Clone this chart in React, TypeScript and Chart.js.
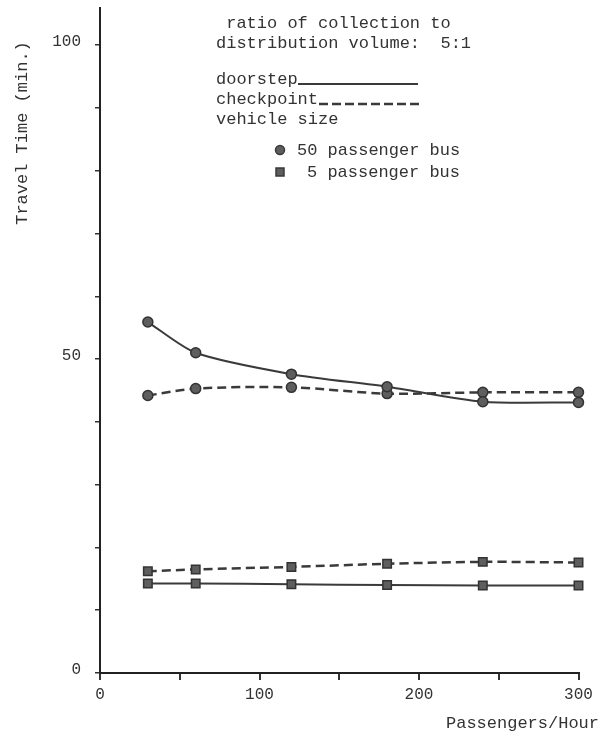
import React, { useEffect, useRef } from 'react';
import { Chart, registerables } from 'chart.js';

Chart.register(...registerables);

// Passengers per hour
const xValues = [30, 60, 120, 180, 240, 300];
// Travel time (min.)
const bus50Doorstep = [55.9, 51.0, 47.6, 45.6, 43.2, 43.1];
const bus50Checkpoint = [44.2, 45.3, 45.5, 44.5, 44.7, 44.7];
const bus5Doorstep = [14.25, 14.25, 14.15, 14.0, 13.95, 13.95];
const bus5Checkpoint = [16.2, 16.5, 16.9, 17.4, 17.7, 17.6];

const yTickValues = [0, 10, 20, 30, 40, 50, 60, 70, 80, 90, 100];
const yTickLabeled = [0, 50, 100];
const xTickValues = [0, 50, 100, 150, 200, 250, 300];
const xTickLabeled = [0, 100, 200, 300];

const titleLines = [' ratio of collection to', 'distribution volume:  5:1'];
const lineTypeLabels = ['doorstep', 'checkpoint', 'vehicle size'];
const vehicleLabels = ['50 passenger bus', '5 passenger bus'];
const yAxisTitle = 'Travel Time (min.)';
const xAxisTitle = 'Passengers/Hour';

const FONT = '"Liberation Mono", "Courier New", monospace';
const INK = '#333333';
const LINE = '#3a3a3a';
const MARK_FILL = '#5e5e5e';

const toPts = (ys: number[]) => xValues.map((x, i) => ({ x, y: ys[i] }));

const annotationPlugin = {
  id: 'annotations',
  afterDraw(chart: any) {
    const ctx = chart.ctx as CanvasRenderingContext2D;
    ctx.save();
    ctx.fillStyle = INK;
    ctx.strokeStyle = LINE;
    ctx.font = `17px ${FONT}`;
    ctx.textBaseline = 'middle';
    ctx.textAlign = 'left';
    ctx.fillText(titleLines[0], 216, 23);
    ctx.fillText(titleLines[1], 216, 43);
    ctx.fillText(lineTypeLabels[0], 216, 79);
    ctx.fillText(lineTypeLabels[1], 216, 99);
    ctx.fillText(lineTypeLabels[2], 216, 119);

    // legend line samples
    ctx.lineWidth = 2;
    ctx.setLineDash([]);
    ctx.beginPath();
    ctx.moveTo(298, 84);
    ctx.lineTo(418, 84);
    ctx.stroke();
    ctx.lineWidth = 2.5;
    ctx.setLineDash([9, 4]);
    ctx.beginPath();
    ctx.moveTo(319, 104);
    ctx.lineTo(420, 104);
    ctx.stroke();
    ctx.setLineDash([]);

    // legend markers
    ctx.fillStyle = MARK_FILL;
    ctx.lineWidth = 1.5;
    ctx.beginPath();
    ctx.arc(280, 150, 4.5, 0, Math.PI * 2);
    ctx.fill();
    ctx.stroke();
    ctx.beginPath();
    ctx.rect(276, 168, 8, 8);
    ctx.fill();
    ctx.stroke();

    ctx.fillStyle = INK;
    ctx.fillText(vehicleLabels[0], 297, 150);
    ctx.fillText(vehicleLabels[1], 307, 172);

    // axis titles
    ctx.textAlign = 'right';
    ctx.fillText(xAxisTitle, 599, 723);

    ctx.save();
    ctx.translate(22, 133);
    ctx.rotate(-Math.PI / 2);
    ctx.textAlign = 'center';
    ctx.fillText(yAxisTitle, 0, 0);
    ctx.restore();

    ctx.restore();
  },
};

export default function App() {
  const canvasRef = useRef<HTMLCanvasElement | null>(null);

  useEffect(() => {
    if (!canvasRef.current) return;
    const solid = { borderDash: [] as number[], borderWidth: 2 };
    const dashed = { borderDash: [9, 5], borderWidth: 2.5 };
    const circle = {
      pointStyle: 'circle',
      pointRadius: 5,
      pointBackgroundColor: MARK_FILL,
      pointBorderColor: '#333',
      pointBorderWidth: 1.5,
    };
    const square = {
      pointStyle: 'rect',
      pointRadius: 6,
      pointBackgroundColor: MARK_FILL,
      pointBorderColor: '#333',
      pointBorderWidth: 1.5,
    };
    const chart = new Chart(canvasRef.current, {
      type: 'line',
      data: {
        datasets: [
          { label: '50 bus doorstep', data: toPts(bus50Doorstep), borderColor: LINE, tension: 0.25, clip: false, ...solid, ...circle },
          { label: '50 bus checkpoint', data: toPts(bus50Checkpoint), borderColor: LINE, tension: 0.3, clip: false, ...dashed, ...circle },
          { label: '5 bus doorstep', data: toPts(bus5Doorstep), borderColor: LINE, tension: 0.2, clip: false, ...solid, ...square },
          { label: '5 bus checkpoint', data: toPts(bus5Checkpoint), borderColor: LINE, tension: 0.3, clip: false, ...dashed, ...square },
        ] as any,
      },
      options: {
        animation: false,
        responsive: false,
        layout: { padding: { top: 6, right: 26.5, bottom: 0, left: 0 } },
        plugins: { legend: { display: false }, tooltip: { enabled: false } },
        scales: {
          x: {
            type: 'linear',
            min: 0,
            max: 300,
            afterBuildTicks: (scale: any) => {
              scale.ticks = xTickValues.map((v) => ({ value: v }));
            },
            afterFit: (scale: any) => {
              scale.height = 62;
            },
            ticks: {
              autoSkip: false,
              maxRotation: 0,
              padding: 5,
              color: INK,
              font: { family: FONT, size: 16 },
              callback: (v: any) => (xTickLabeled.includes(Number(v)) ? String(v) : ''),
            },
            grid: { display: true, drawOnChartArea: false, drawTicks: true, tickLength: 7, color: '#333', lineWidth: 2 },
            border: { display: true, color: '#222', width: 2 },
          },
          y: {
            type: 'linear',
            min: 0,
            max: 106,
            afterBuildTicks: (scale: any) => {
              scale.ticks = yTickValues.map((v) => ({ value: v }));
            },
            afterFit: (scale: any) => {
              scale.width = 100;
              scale.paddingTop = 0;
              scale.paddingBottom = 0;
            },
            ticks: {
              autoSkip: false,
              padding: 14,
              labelOffset: -3,
              color: INK,
              font: { family: FONT, size: 16 },
              callback: (v: any) => (yTickLabeled.includes(Number(v)) ? String(v) : ''),
            },
            grid: { display: true, drawOnChartArea: false, drawTicks: true, tickLength: 5, color: '#333', lineWidth: 1.5 },
            border: { display: true, color: '#222', width: 2 },
          },
        },
      } as any,
      plugins: [annotationPlugin],
    });
    return () => chart.destroy();
  }, []);

  return (
    <div style={{ position: 'fixed', left: 0, top: 0, width: 605, height: 735, background: '#fff' }}>
      <canvas ref={canvasRef} width={605} height={735} style={{ display: 'block', width: 605, height: 735 }} />
    </div>
  );
}
